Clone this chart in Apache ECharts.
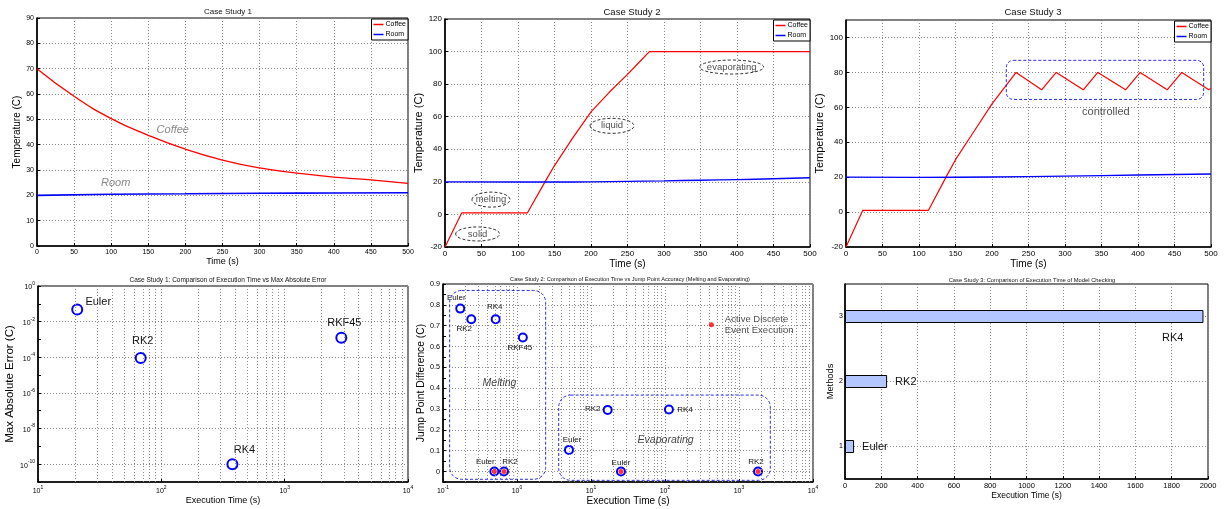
<!DOCTYPE html>
<html><head><meta charset="utf-8">
<script src="https://cdn.jsdelivr.net/npm/echarts@6/dist/echarts.min.js"></script>
<style>html,body{margin:0;padding:0;background:#fff}#c{width:1225px;height:509px}</style>
</head><body><div id="c"></div>
<script>
// ---------------- DATA ----------------
// Case Study 1 (temperature vs time)
const cs1Time = [0, 50, 100, 150, 200, 250, 300, 350, 400, 450, 500];
const cs1Coffee = [70, 59.1, 50.3, 43.7, 38.2, 33.9, 30.8, 28.8, 27.2, 26.1, 24.7];
const cs1RoomTime = [0, 100, 200, 300, 400, 500];
const cs1Room = [20, 20.4, 20.6, 20.8, 20.9, 21.0];
const cs1NoteText = ['Coffee', 'Room'];
const cs1NoteTime = [183, 106];
const cs1NoteTemp = [46, 24.7];

// Case Study 2
const cs2CoffeeTime = [0, 23, 113, 137, 150, 175, 200, 225, 250, 265, 280, 500];
const cs2Coffee = [-20, 1, 1, 20, 30, 47, 63, 75, 86, 93, 100, 100];
const cs2RoomTime = [0, 100, 150, 200, 250, 300, 350, 400, 450, 500];
const cs2Room = [20, 19.9, 19.9, 20.0, 20.3, 20.6, 21.0, 21.4, 21.9, 22.5];
const cs2NoteText = ['solid', 'melting', 'liquid', 'evaporating'];
const cs2NoteTime = [44.7, 63, 228.8, 392.7];
const cs2NoteTemp = [-12, 9.1, 54.4, 90.5];

// Case Study 3
const cs3CoffeeTime = [0, 23, 113, 137, 150, 175, 200, 233, 268, 288, 325, 345, 383, 403, 440, 460, 497, 500];
const cs3Coffee = [-20, 1, 1, 20, 30, 46, 62, 80, 70, 80, 70, 80, 70, 80, 70, 80, 70, 71];
const cs3RoomTime = [0, 100, 200, 300, 400, 500];
const cs3Room = [20, 19.9, 20.1, 20.6, 21.2, 21.8];
const cs3NoteText = ['controlled'];
const cs3NoteTime = [356];
const cs3NoteTemp = [57.4];
const cs3BoxTime = [219.6, 490];
const cs3BoxTemp = [64.5, 86.9];

// Case Study 1: execution time vs max abs error
const cs1Methods = ['Euler', 'RK2', 'RK4', 'RKF45'];
const cs1ExecTime = [20.8, 68, 377, 2880];
const cs1MaxAbsError = [0.048, 9.1e-5, 1.0e-10, 1.26e-3];

// Case Study 2: execution time vs jump point difference
const meltMethods = ['Euler', 'RK2', 'RK4', 'RKF45'];
const meltExecTime = [0.171, 0.241, 0.515, 1.2];
const meltJumpDiff = [0.782, 0.731, 0.731, 0.643];
const meltActiveMethods = ['Euler', 'RK2'];
const meltActiveTime = [0.494, 0.667];
const meltActiveDiff = [0, 0];
const evapMethods = ['Euler', 'RK2', 'RK4'];
const evapExecTime = [5.04, 16.8, 113];
const evapJumpDiff = [0.104, 0.296, 0.298];
const evapActiveMethods = ['Euler', 'RK2'];
const evapActiveTime = [25.4, 1807];
const evapActiveDiff = [0, 0];
const activeKeyText = ['Active Discrete\nEvent Execution'];
const activeKeyTime = [423];
const activeKeyDiff = [0.705];
const regionText = ['Melting', 'Evaporating'];
const regionTextTime = [0.58, 102];
const regionTextDiff = [0.423, 0.152];
const meltBoxTime = [0.123, 2.44];
const meltBoxDiff = [-0.037, 0.869];
const evapBoxTime = [3.66, 2650];
const evapBoxDiff = [-0.042, 0.367];

// Case Study 3: model checking execution time
const cs3MethodTicks = ['1', '2', '3'];
const cs3Methods = ['Euler', 'RK2', 'RK4'];
const cs3ExecTime = [50, 232, 1975];

// ---------------- LAYOUT / STYLE ----------------
const FONT = 'Liberation Sans, Arial, sans-serif';
const GRIDC = '#8a8a8a';
const DOT = [1, 2];
const RED = '#ff0000', BLUE = '#0000ff', RBLUE = '#2a2aee';
const grids = [
  {left: 37, top: 18, width: 371, height: 228},
  {left: 445, top: 19, width: 365, height: 228},
  {left: 846, top: 20, width: 365, height: 227},
  {left: 38, top: 286, width: 370, height: 196},
  {left: 443, top: 284, width: 370, height: 198},
  {left: 845, top: 284, width: 363, height: 195}
].map(g => Object.assign({show: true, borderColor: '#000', borderWidth: 1, backgroundColor: '#fff', containLabel: false}, g));

const cs1LabelOffset = [[21, -8], [2, -17], [12, -14], [3, -15]];
const meltLabelOffset = [[-4, -11], [-7, 10], [-1, -12], [-3, 10]];
const meltActiveLabelOffset = [[-9, -10], [6, -10]];
const evapLabelOffset = [[3, -10], [-15, -1], [16, 0]];
const evapActiveLabelOffset = [[0, -9], [-2, -10]];
const cs2NoteRadii = [[22, 7], [19, 7.5], [22, 7.5], [32, 7]];

function pow10(v) { return '{b|10}{e|' + Math.round(v) + '}'; }
const powRich = {
  b: {fontSize: 7, lineHeight: 10, verticalAlign: 'bottom', color: '#000', fontFamily: FONT},
  e: {fontSize: 5, lineHeight: 6, verticalAlign: 'top', color: '#000', fontFamily: FONT}
};

function axis(type, gi, o) {
  const a = {
    type: 'value', gridIndex: gi, min: o.min, max: o.max, interval: o.interval,
    name: o.name, nameLocation: 'middle', nameGap: o.nameGap,
    nameTextStyle: {color: '#000', fontSize: o.nameSize, fontFamily: FONT},
    axisLine: {show: true, onZero: false, lineStyle: {color: '#000', width: 1.6}},
    axisTick: {show: true, inside: true, length: 3, lineStyle: {color: '#000', width: 1}},
    axisLabel: {color: '#000', fontSize: o.labelSize, margin: o.margin || 3, fontFamily: FONT,
      formatter: o.formatter || (v => String(v)), rich: o.rich, showMaxLabel: o.showMaxLabel},
    splitLine: {show: true, lineStyle: {color: o.splitColors || GRIDC, type: DOT, width: 1}}
  };
  return a;
}

const xAxes = [
  axis('x', 0, {min: 0, max: 500, interval: 50, name: 'Time (s)', nameGap: 9, nameSize: 9, labelSize: 7}),
  axis('x', 1, {min: 0, max: 500, interval: 50, name: 'Time (s)', nameGap: 9, nameSize: 10, labelSize: 8}),
  axis('x', 2, {min: 0, max: 500, interval: 50, name: 'Time (s)', nameGap: 9, nameSize: 10, labelSize: 8}),
  axis('x', 3, {min: 1, max: 4, interval: 1, name: 'Execution Time (s)', nameGap: 12, nameSize: 9, labelSize: 7, formatter: pow10, rich: powRich}),
  axis('x', 4, {min: -1, max: 4, interval: 1, name: 'Execution Time (s)', nameGap: 12, nameSize: 10, labelSize: 7, formatter: pow10, rich: powRich}),
  axis('x', 5, {min: 0, max: 2000, interval: 200, name: 'Execution Time (s)', nameGap: 10, nameSize: 8.5, labelSize: 7.5})
];
const yAxes = [
  axis('y', 0, {min: 0, max: 90, interval: 10, name: 'Temperature (C)', nameGap: 10, nameSize: 10, labelSize: 7}),
  axis('y', 1, {min: -20, max: 120, interval: 20, name: 'Temperature (C)', nameGap: 14, nameSize: 11, labelSize: 8}),
  axis('y', 2, {min: -20, max: 110, interval: 20, name: 'Temperature (C)', nameGap: 15, nameSize: 11, labelSize: 8, showMaxLabel: false}),
  axis('y', 3, {min: -11, max: 0, interval: 1, name: 'Max Absolute Error (C)', nameGap: 19, nameSize: 11.5, labelSize: 7,
    formatter: v => (Math.round(v) % 2 === 0 ? pow10(v) : ''), rich: powRich, splitColors: ['rgba(0,0,0,0)', GRIDC]}),
  axis('y', 4, {min: -0.05, max: 0.9, interval: 0.05, name: 'Jump Point Difference (C)', nameGap: 13, nameSize: 10.3, labelSize: 7.2,
    formatter: v => (Math.round(v * 20) % 2 === 0 ? String(+v.toFixed(1)) : ''), splitColors: ['rgba(0,0,0,0)', GRIDC]}),
  {
    type: 'category', gridIndex: 5, data: cs3MethodTicks, boundaryGap: true,
    name: 'Methods', nameLocation: 'middle', nameGap: 7,
    nameTextStyle: {color: '#000', fontSize: 9.3, fontFamily: FONT},
    axisLine: {show: true, lineStyle: {color: '#000', width: 1.6}},
    axisTick: {show: true, inside: true, alignWithLabel: true, length: 3, lineStyle: {color: '#000'}},
    axisLabel: {color: '#000', fontSize: 7, margin: 2, fontFamily: FONT},
    splitLine: {show: false}
  },
  {
    type: 'value', gridIndex: 5, min: 0.5, max: 3.5, interval: 0.5,
    axisLine: {show: false}, axisTick: {show: false}, axisLabel: {show: false},
    splitLine: {show: true, lineStyle: {color: ['rgba(0,0,0,0)', GRIDC], type: DOT, width: 1}}
  }
];

function zip(a, b) { return a.map((v, i) => [v, b[i]]); }
function minorLogLines(from, to) {
  const out = [];
  for (let d = from; d < to; d++) for (let k = 2; k <= 9; k++) out.push({xAxis: Math.log10(k) + d});
  return out;
}
const minorLineStyle = {color: GRIDC, type: DOT, width: 1};

function noteSeries(gi, text, xs, ys, style) {
  return {
    type: 'scatter', xAxisIndex: gi, yAxisIndex: gi, symbolSize: 1, silent: true, z: 5,
    itemStyle: {color: 'rgba(0,0,0,0)'},
    data: text.map((t, i) => ({name: t, value: [xs[i], ys[i]]})),
    label: Object.assign({show: true, position: 'inside', formatter: '{b}', fontFamily: FONT}, style)
  };
}
function lineSeries(name, gi, xs, ys, color, smooth, w) {
  return {type: 'line', name: name, xAxisIndex: gi, yAxisIndex: gi, data: zip(xs, ys), smooth: smooth,
    symbol: 'none', lineStyle: {color: color, width: w}, itemStyle: {color: color}, z: 3};
}
function ringSeries(gi, names, xs, ys, offsets, size, fontSize, logx, extra) {
  return Object.assign({
    type: 'scatter', xAxisIndex: gi, yAxisIndex: gi, symbol: 'circle', symbolSize: size, z: 4,
    itemStyle: {color: '#fff', borderColor: BLUE, borderWidth: 2, opacity: 1},
    data: names.map((n, i) => ({name: n, value: [logx ? Math.log10(xs[i]) : xs[i], ys[i]],
      label: {offset: offsets[i]}})),
    label: {show: true, position: 'inside', formatter: '{b}', color: '#111', fontSize: fontSize, fontFamily: FONT}
  }, extra || {});
}
function dotSeries(gi, xs, ys, size) {
  return {type: 'scatter', xAxisIndex: gi, yAxisIndex: gi, symbol: 'circle', symbolSize: size, z: 6,
    itemStyle: {color: RED}, data: xs.map((x, i) => [Math.log10(x), ys[i]])};
}

const legendBase = {
  data: ['Coffee', 'Room'], orient: 'vertical', backgroundColor: '#fff', borderColor: '#000', borderWidth: 1,
  borderRadius: 0, padding: [2, 2, 2, 2], itemGap: 3, itemWidth: 10, itemHeight: 1.5, icon: 'rect', selectedMode: false,
  textStyle: {fontSize: 7, color: '#000', fontFamily: FONT, padding: [0, 0, 0, -3]}
};

const titleStyle = (s) => ({fontSize: s, fontWeight: 'normal', color: '#111', fontFamily: FONT});

const option = {
  animation: false,
  backgroundColor: '#fff',
  title: [
    {text: 'Case Study 1', left: 223, top: 3, textAlign: 'center', textStyle: titleStyle(8)},
    {text: 'Case Study 2', left: 627, top: 2, textAlign: 'center', textStyle: titleStyle(9.5)},
    {text: 'Case Study 3', left: 1028, top: 2, textAlign: 'center', textStyle: titleStyle(9.5)},
    {text: 'Case Study 1: Comparison of Execution Time vs Max Absolute Error', left: 223, top: 272, textAlign: 'center', textStyle: titleStyle(6.5)},
    {text: 'Case Study 2: Comparison of Execution Time vs Jump Point Accuracy (Melting and Evaporating)', left: 625, top: 271, textAlign: 'center', textStyle: titleStyle(5.6)},
    {text: 'Case Study 3: Comparison of Execution Time of Model Checking', left: 1027, top: 272, textAlign: 'center', textStyle: titleStyle(5.8)}
  ],
  legend: [
    Object.assign({}, legendBase, {right: 1225 - 408, top: 19}),
    Object.assign({}, legendBase, {right: 1225 - 810, top: 20}),
    Object.assign({}, legendBase, {right: 1225 - 1211, top: 21})
  ],
  grid: grids,
  xAxis: xAxes,
  yAxis: yAxes,
  series: [
    // Panel 1
    lineSeries('Coffee', 0, cs1Time, cs1Coffee, RED, true, 1.3),
    lineSeries('Room', 0, cs1RoomTime, cs1Room, BLUE, true, 1.6),
    noteSeries(0, cs1NoteText, cs1NoteTime, cs1NoteTemp, {fontSize: 11, fontStyle: 'italic', color: '#6a6a6a'}),
    // Panel 2
    lineSeries('Coffee', 1, cs2CoffeeTime, cs2Coffee, RED, false, 1.2),
    lineSeries('Room', 1, cs2RoomTime, cs2Room, BLUE, true, 1.4),
    noteSeries(1, cs2NoteText, cs2NoteTime, cs2NoteTemp, {fontSize: 9.5, color: '#222'}),
    // Panel 3
    lineSeries('Coffee', 2, cs3CoffeeTime, cs3Coffee, RED, false, 1.2),
    lineSeries('Room', 2, cs3RoomTime, cs3Room, BLUE, true, 1.4),
    noteSeries(2, cs3NoteText, cs3NoteTime, cs3NoteTemp, {fontSize: 11, color: '#222'}),
    // Panel 4
    Object.assign(ringSeries(3, cs1Methods, cs1ExecTime.map(Math.log10), cs1MaxAbsError.map(Math.log10), cs1LabelOffset, 10, 11, false), {
      markLine: {silent: true, symbol: 'none', label: {show: false}, lineStyle: minorLineStyle, data: minorLogLines(1, 4)}
    }),
    // Panel 5
    Object.assign(ringSeries(4, meltMethods, meltExecTime, meltJumpDiff, meltLabelOffset, 8, 8, true), {
      markLine: {silent: true, symbol: 'none', label: {show: false}, lineStyle: minorLineStyle, data: minorLogLines(-1, 4)}
    }),
    ringSeries(4, meltActiveMethods, meltActiveTime, meltActiveDiff, meltActiveLabelOffset, 8, 8, true),
    ringSeries(4, evapMethods, evapExecTime, evapJumpDiff, evapLabelOffset, 8, 8, true),
    ringSeries(4, evapActiveMethods, evapActiveTime, evapActiveDiff, evapActiveLabelOffset, 8, 8, true),
    dotSeries(4, meltActiveTime, meltActiveDiff, 5),
    dotSeries(4, evapActiveTime, evapActiveDiff, 5),
    {type: 'scatter', xAxisIndex: 4, yAxisIndex: 4, symbol: 'circle', symbolSize: 5, z: 6, itemStyle: {color: RED},
      data: activeKeyText.map((t, i) => ({name: t, value: [Math.log10(activeKeyTime[i]), activeKeyDiff[i]]})),
      label: {show: true, position: 'right', distance: 11, formatter: '{b}', fontSize: 9.5, lineHeight: 11, color: '#222', fontFamily: FONT}},
    noteSeries(4, regionText, regionTextTime.map(Math.log10), regionTextDiff, {fontSize: 10.5, fontStyle: 'italic', color: '#111'}),
    // Panel 6
    {type: 'bar', xAxisIndex: 5, yAxisIndex: 5, barWidth: 13, z: 3,
      itemStyle: {color: '#b4c6ff', borderColor: '#000', borderWidth: 1},
      data: cs3ExecTime.map((v, i) => {
        const d = {name: cs3Methods[i], value: v};
        if (i === 2) d.label = {position: 'insideBottomRight', offset: [-12, 28]};
        return d;
      }),
      label: {show: true, position: 'right', distance: 8, formatter: '{b}', fontSize: 11, color: '#111', fontFamily: FONT}}
  ]
};

const chart = echarts.init(document.getElementById('c'), null, {renderer: 'canvas'});
chart.setOption(option);

// annotation shapes placed through the coordinate systems
const dash = {fill: 'none', lineWidth: 1, lineDash: [3, 2]};
const gfx = [];
cs2NoteText.forEach((t, i) => {
  const p = chart.convertToPixel({gridIndex: 1}, [cs2NoteTime[i], cs2NoteTemp[i]]);
  gfx.push({type: 'ellipse', silent: true, z: 10, shape: {cx: p[0], cy: p[1], rx: cs2NoteRadii[i][0], ry: cs2NoteRadii[i][1]},
    style: Object.assign({stroke: '#333'}, dash)});
});
function boxFrom(gi, xs, ys, logx, r) {
  const a = chart.convertToPixel({gridIndex: gi}, [logx ? Math.log10(xs[0]) : xs[0], ys[1]]);
  const b = chart.convertToPixel({gridIndex: gi}, [logx ? Math.log10(xs[1]) : xs[1], ys[0]]);
  return {type: 'rect', silent: true, z: 10, shape: {x: a[0], y: a[1], width: b[0] - a[0], height: b[1] - a[1], r: r},
    style: Object.assign({stroke: RBLUE}, dash)};
}
gfx.push(boxFrom(2, cs3BoxTime, cs3BoxTemp, false, 7));
gfx.push(boxFrom(4, meltBoxTime, meltBoxDiff, true, 12));
gfx.push(boxFrom(4, evapBoxTime, evapBoxDiff, true, 12));
chart.setOption({graphic: gfx});
</script></body></html>
